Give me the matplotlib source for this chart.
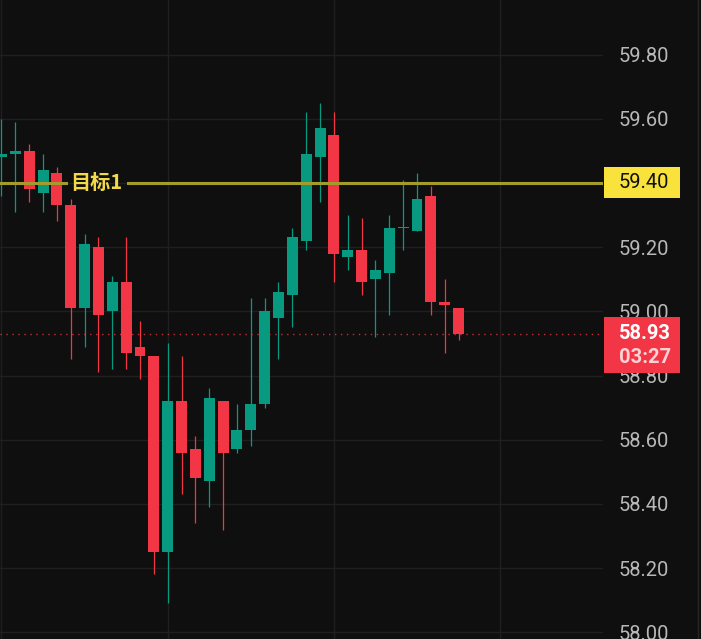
import numpy as np
import matplotlib.pyplot as plt
from matplotlib.patches import Rectangle
from matplotlib.lines import Line2D
from matplotlib.transforms import blended_transform_factory

plt.rcParams['font.family'] = ['Roboto', 'Noto Sans CJK SC', 'DejaVu Sans']

# OHLC
opens  = [59.48, 59.49, 59.50, 59.37, 59.43, 59.33, 59.01, 59.20, 59.00, 59.09,
          58.89, 58.86, 58.25, 58.72, 58.57, 58.47, 58.72, 58.57, 58.63, 58.71,
          58.98, 59.05, 59.22, 59.48, 59.55, 59.17, 59.19, 59.10, 59.12, 59.26,
          59.25, 59.36, 59.03, 59.01]
closes = [59.49, 59.50, 59.38, 59.44, 59.33, 59.01, 59.21, 58.99, 59.09, 58.87,
          58.86, 58.25, 58.72, 58.56, 58.48, 58.73, 58.56, 58.63, 58.71, 59.00,
          59.06, 59.23, 59.49, 59.57, 59.18, 59.19, 59.09, 59.13, 59.26, 59.26,
          59.35, 59.03, 59.02, 58.93]
highs  = [59.60, 59.59, 59.52, 59.49, 59.45, 59.35, 59.24, 59.23, 59.11, 59.23,
          58.97, 58.86, 58.90, 58.86, 58.61, 58.76, 58.72, 58.71, 59.04, 59.04,
          59.09, 59.26, 59.62, 59.65, 59.62, 59.30, 59.29, 59.16, 59.30, 59.41,
          59.43, 59.39, 59.10, 59.01]
lows   = [59.36, 59.31, 59.34, 59.31, 59.28, 58.85, 58.89, 58.81, 58.82, 58.82,
          58.79, 58.18, 58.09, 58.43, 58.34, 58.39, 58.32, 58.56, 58.58, 58.70,
          58.85, 58.95, 59.19, 59.34, 59.09, 59.13, 59.05, 58.92, 58.99, 59.19,
          59.25, 58.99, 58.87, 58.91]

price_ticks = [58.00, 58.20, 58.40, 58.60, 58.80, 59.00, 59.20, 59.40, 59.60, 59.80]
target_price = 59.40
target_label = "目标1"
last_price = 58.93
countdown = "03:27"

BG = '#0f0f0f'
GRID = '#1f1f1f'
UP = '#089981'
DOWN = '#f23645'

fig = plt.figure(figsize=(7.01, 6.39), dpi=100, facecolor=BG)
ax = fig.add_axes([0, 0, 603 / 701, 1])
ax.set_facecolor(BG)

o = np.array(opens); c = np.array(closes)
h = np.array(highs); l = np.array(lows)
x = np.arange(len(o))
col = np.where(c >= o, UP, DOWN)

ax.vlines(x, l, h, colors=col, lw=0.9, zorder=2)
body_lo = np.minimum(o, c)
body_h = np.maximum(np.abs(c - o), 0.004)
ax.bar(x, body_h, bottom=body_lo, width=0.79, color=col, edgecolor='none', zorder=2.2)

# last price dotted line
ax.axhline(last_price, color=DOWN, lw=1, ls=(0, (1, 3.3)), alpha=0.8, zorder=1.5)

# target line with gap for its label
ax.axhline(target_price, 0, 0.110, color='#a39c2c', lw=2.2, zorder=3)
ax.axhline(target_price, 0.212, 1, color='#a39c2c', lw=2.2, zorder=3)
ax.text(4.95, target_price, target_label, ha='left', va='center', fontsize=14.5,
        fontweight='bold', color='#f2d94a', family=['Noto Sans CJK SC', 'DejaVu Sans'], zorder=4)

ax.set_xlim(-0.108, 43.43)
ax.set_ylim(57.979, 59.970)
ax.set_xticks([0, 12, 24, 36])
ax.set_yticks(price_ticks)
# the target price box replaces the plain tick label
ax.set_yticklabels(["" if p == target_price else f"{p:.2f}" for p in price_ticks])
ax.grid(color=GRID, lw=1)
ax.set_axisbelow(True)
ax.yaxis.tick_right()
ax.tick_params(axis='y', length=0, pad=11.5, labelsize=14.5, labelcolor='#b8b8b8')
ax.tick_params(axis='x', length=0, labelbottom=False)
for s in ax.spines.values():
    s.set_visible(False)

# price boxes on the axis
tr = blended_transform_factory(ax.transAxes, ax.transData)
bx0, bw = 1.0017, 0.126
tx = 1.0265
ax.add_patch(Rectangle((bx0, target_price - 0.047), bw, 0.097, transform=tr,
                       facecolor='#f9e23c', edgecolor='none', clip_on=False, zorder=10))
ax.text(tx, target_price, f"{target_price:.2f}", transform=tr, ha='left', va='center',
        fontsize=14.5, color='#111111', clip_on=False, zorder=11)

ax.add_patch(Rectangle((bx0, last_price - 0.122), bw, 0.175, transform=tr,
                       facecolor=DOWN, edgecolor='none', clip_on=False, zorder=10))
ax.text(tx, last_price, f"{last_price:.2f}", transform=tr, ha='left', va='center',
        fontsize=14.5, fontweight='bold', color='white', clip_on=False, zorder=11)
ax.text(tx, last_price - 0.075, countdown, transform=tr, ha='left', va='center',
        fontsize=14.5, fontweight='bold', color='#ffd2d6', clip_on=False, zorder=11)

fig.add_artist(Line2D([698 / 701, 698 / 701], [0, 1], transform=fig.transFigure,
                      color='#262626', lw=1))

fig.savefig('out.png', dpi=100, facecolor=BG)
